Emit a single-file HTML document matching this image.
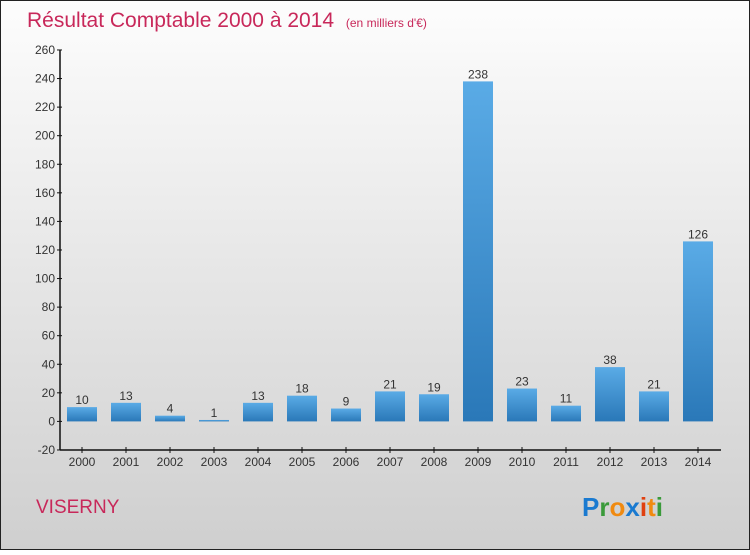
<!DOCTYPE html>
<html><head><meta charset="utf-8"><style>
body{margin:0;width:750px;height:550px;overflow:hidden;font-family:"Liberation Sans",sans-serif}
</style></head><body>
<svg id="c" width="750" height="550" xmlns="http://www.w3.org/2000/svg">
<defs>
<linearGradient id="bg" x1="0" y1="0" x2="0" y2="1"><stop offset="0" stop-color="#fdfdfd"/><stop offset="1" stop-color="#cfcfcf"/></linearGradient>
<linearGradient id="bar" x1="0" y1="0" x2="0" y2="1"><stop offset="0" stop-color="#5aabe6"/><stop offset="1" stop-color="#2a78b8"/></linearGradient>
</defs>
<rect x="0.5" y="0.5" width="749" height="549" fill="url(#bg)" stroke="#222"/>
<text x="27" y="27" font-size="21" fill="#c8285a">Résultat Comptable 2000 à 2014 <tspan font-size="12" dx="6">(en milliers d'€)</tspan></text>
<text x="36" y="513" font-size="19" fill="#c8285a">VISERNY</text>
<text x="582" y="516" font-size="26" font-weight="bold"><tspan fill="#1a7ad0">P</tspan><tspan fill="#3a9a3a">r</tspan><tspan fill="#f08a10">o</tspan><tspan fill="#1a7ad0">x</tspan><tspan fill="#e04010">i</tspan><tspan fill="#f08a10">t</tspan><tspan fill="#3a9a3a">i</tspan></text>
<g id="axes"></g><g id="bars"></g>
</svg>
<script>
const categories=["2000","2001","2002","2003","2004","2005","2006","2007","2008","2009","2010","2011","2012","2013","2014"];
const values=[10,13,4,1,13,18,9,21,19,238,23,11,38,21,126];
const yTicks=[-20,0,20,40,60,80,100,120,140,160,180,200,220,240,260];
const NS="http://www.w3.org/2000/svg";
const y=v=>421.4-(v)*400/280;
const x=i=>82+i*44;
function el(t,a,p,txt){const e=document.createElementNS(NS,t);for(const k in a)e.setAttribute(k,a[k]);if(txt!==undefined)e.textContent=txt;p.appendChild(e);return e;}
const ax=document.getElementById('axes'),bg=document.getElementById('bars');
const ya=el('line',{x1:60,y1:50,x2:60,y2:450,stroke:'#111','stroke-width':1.5},ax);


const xa=el('line',{x1:60,y1:450,x2:721,y2:450,stroke:'#111','stroke-width':1.5},ax);


yTicks.forEach(t=>{
 el('line',{x1:57,y1:y(t),x2:62,y2:y(t),stroke:'#111'},ax);
 const l=el('text',{x:55,y:y(t)+4,'font-size':12,fill:'#333','text-anchor':'end'},ax,String(t));
 
 
});
categories.forEach((c,i)=>{
 el('line',{x1:x(i),y1:447,x2:x(i),y2:453,stroke:'#111'},ax);
 const l=el('text',{x:x(i),y:466,'font-size':12,fill:'#333','text-anchor':'middle'},ax,c);
 
 
 const v=values[i];const top=Math.min(y(v),y(0)),h=Math.abs(y(v)-y(0));
 const r=el('rect',{x:x(i)-15,y:top,width:30,height:Math.max(h,1),fill:'url(#bar)'},bg);
 
 
 const vl=el('text',{x:x(i),y:top-3,'font-size':12,fill:'#333','text-anchor':'middle'},bg,String(v));
 
 
});
</script>
</body></html>
